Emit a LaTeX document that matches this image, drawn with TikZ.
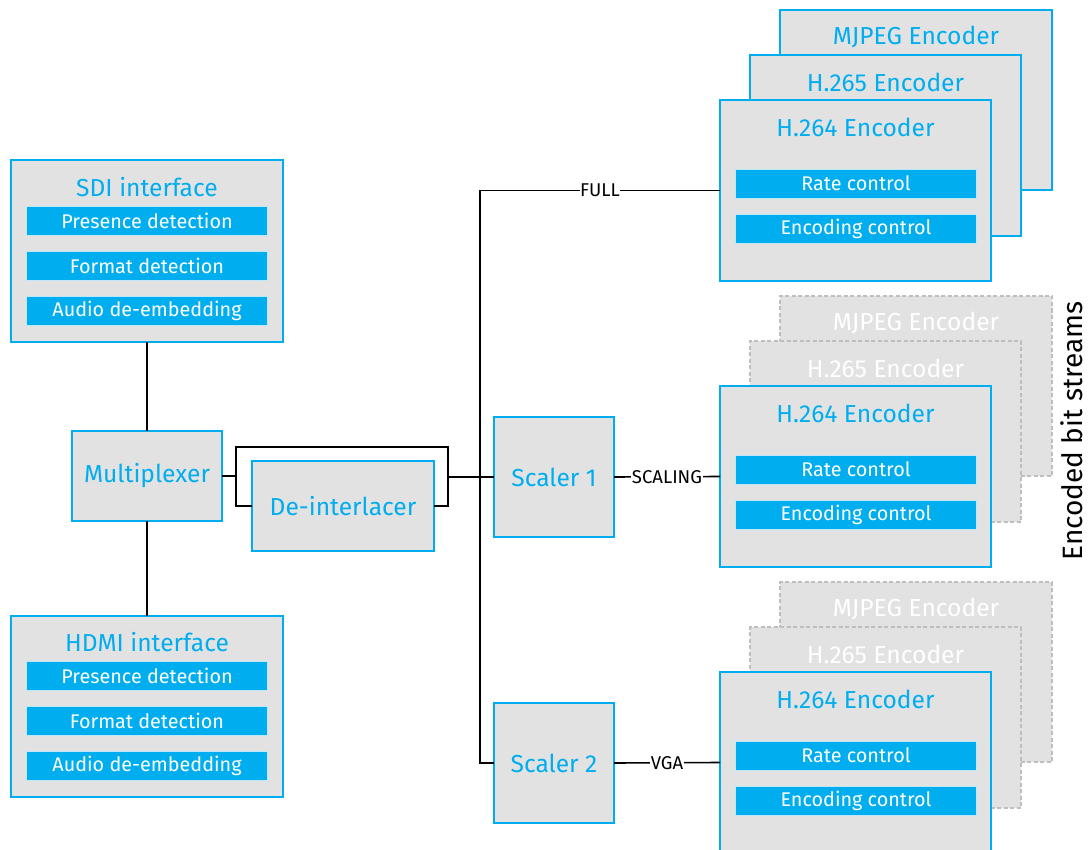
\documentclass[tikz,border=0pt]{standalone}
\usepackage{fontspec}
\setmainfont{Fira Sans}
\definecolor{cy}{RGB}{0,174,239}
\definecolor{bx}{RGB}{226,226,226}
\definecolor{dg}{RGB}{190,190,190}
\definecolor{barline}{RGB}{190,232,250}
\begin{document}
\begin{tikzpicture}[x=1pt,y=-1pt,
  box/.style={draw=cy, line width=2.2pt, fill=bx, inner sep=0pt, outer sep=0pt},
  ghost/.style={draw=dg, line width=1.8pt, dash pattern=on 4pt off 2.5pt, fill=bx, inner sep=0pt, outer sep=0pt},
  bar/.style={draw=barline, line width=0.8pt, fill=cy, text=white, minimum width=241pt, minimum height=29pt, inner sep=0pt, font=\fontsize{19.8}{21}\selectfont},
  ttl/.style={text=cy, inner sep=0pt, font=\fontsize{24.6}{27}\selectfont},
  gttl/.style={text=white, inner sep=0pt, font=\fontsize{24.6}{27}\selectfont},
  lab/.style={fill=white, inner sep=0.6pt, font=\fontsize{18.5}{20}\selectfont},
  wire/.style={line width=1.6pt, black}]
\useasboundingbox (0,0) rectangle (1090,850);
\fill[white] (0,0) rectangle (1090,850);

% ---- input interfaces
\node[box, minimum width=272pt, minimum height=182pt] (sdi) at (147,251) {};
\node[ttl] (sditl) at (147,187) {SDI interface};
\node[bar] (sdib1) at (147,220.5) {Presence detection};
\node[bar] (sdib2) at (147,265.5) {Format detection};
\node[bar] (sdib3) at (147,310.5) {Audio de-embedding};

\node[box, minimum width=272pt, minimum height=181pt] (hdmi) at (147,706.5) {};
\node[ttl] (hdmitl) at (147,642) {HDMI interface};
\node[bar] (hdmib1) at (147,675.5) {Presence detection};
\node[bar] (hdmib2) at (147,720.5) {Format detection};
\node[bar] (hdmib3) at (147,765.5) {Audio de-embedding};

\node[box, ttl, minimum width=150pt, minimum height=90pt] (mux) at (147,476) {Multiplexer};
\node[box, ttl, minimum width=182pt, minimum height=90pt] (deint) at (343,506) {De-interlacer};

\node[box, ttl, minimum width=120pt, minimum height=120pt] (sc1) at (554,477) {Scaler 1};
\node[box, ttl, minimum width=120pt, minimum height=120pt] (sc2) at (554,763) {Scaler 2};

% ---- encoder stacks
\foreach \g/\dy/\st/\ts in {1/0/box/ttl, 2/286/ghost/gttl, 3/572/ghost/gttl}{
  \node[\st, minimum width=272pt, minimum height=180pt] (mj\g) at (916,100+\dy) {};
  \node[\ts] (mjt\g) at (916,37+\dy) {MJPEG Encoder};
  \node[\st, minimum width=271pt, minimum height=181pt] (hf\g) at (885.5,145.5+\dy) {};
  \node[\ts] (hft\g) at (885.5,82+\dy) {H.265 Encoder};
  \node[box, minimum width=271pt, minimum height=181pt] (enc\g) at (855.5,190.5+\dy) {};
  \node[ttl] (enct\g) at (855.5,127+\dy) {H.264 Encoder};
  \node[bar] (rc\g) at (856,183.5+\dy) {Rate control};
  \node[bar] (ec\g) at (856,228.5+\dy) {Encoding control};
}

% ---- connectors
\draw[wire] (sdi.south) -- (mux.north);
\draw[wire] (mux.south) -- (hdmi.north);

\coordinate (bl) at (236,476);
\coordinate (btl) at (236,447);
\coordinate (btr) at (448,447);
\coordinate (br) at (448,477);
\draw[wire] (mux.east) -- (bl) |- (deint.west);
\draw[wire] (bl) -- (btl) -- (btr) |- (deint.east);
\draw[wire] (br) -- (sc1.west);

\coordinate (tt) at (480,190.5);
\coordinate (tb) at (480,763);
\draw[wire] (enc1.west) -- node[lab]{FULL} (tt) -- (tb) -- (sc2.west);
\draw[wire] (sc1.east) -- node[lab]{SCALING} (enc2.west);
\draw[wire] (sc2.east) -- node[lab]{VGA} (enc3.west);

\node[rotate=90, inner sep=0pt, font=\fontsize{28}{30}\selectfont] (ebs) at (1071.5,431) {Encoded bit streams};
\end{tikzpicture}
\end{document}
